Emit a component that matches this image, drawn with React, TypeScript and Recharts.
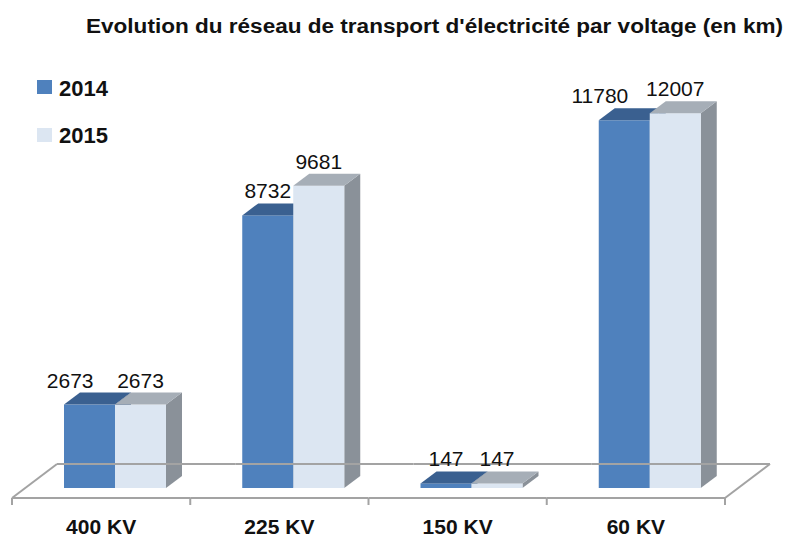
import React from "react";
import { BarChart, Bar, XAxis, YAxis, Legend, LabelList } from "recharts";

const categories = ["400 KV", "225 KV", "150 KV", "60 KV"];
const values2014 = [2673, 8732, 147, 11780];
const values2015 = [2673, 9681, 147, 12007];
const seriesNames = ["2014", "2015"];

const data = categories.map((cat, i) => ({
  cat,
  v2014: values2014[i],
  v2015: values2015[i],
}));

const W = 790;
const H = 539;
const margin = { top: 51, right: 51, left: 26, bottom: 0 };
const AXIS_H = 51;
const PLOT_BOTTOM = H - margin.bottom - AXIS_H;
const BAND = (W - margin.left - margin.right) / categories.length;

// profondeur 3D des barres et du sol
const DX = 16;
const DY = 12;

const colors = {
  blue: { front: "#4F81BD", top: "#3A6090", side: "#2F4F77" },
  light: { front: "#DCE6F2", top: "#A6AEB7", side: "#8A9199" },
};

const make3D = (c: { front: string; top: string; side: string }) => (props: any) => {
  const { x, y, width, height } = props;
  if (height == null || width == null) return null;
  const top = `${x},${y} ${x + width},${y} ${x + width + DX},${y - DY} ${x + DX},${y - DY}`;
  const side = `${x + width},${y} ${x + width + DX},${y - DY} ${x + width + DX},${y + height - DY} ${x + width},${y + height}`;
  return (
    <g>
      <polygon points={side} fill={c.side} />
      <rect x={x} y={y} width={width} height={height} fill={c.front} />
      <polygon points={top} fill={c.top} />
    </g>
  );
};

const getBox = (props: any) => {
  const vb = props.viewBox || {};
  return {
    x: props.x ?? vb.x,
    y: props.y ?? vb.y,
    width: props.width ?? vb.width,
    height: props.height ?? vb.height,
  };
};

const labelStyle = { fontSize: 21, fill: "#111", fontFamily: "Liberation Sans" };
const textW = (v: number) => String(v).length * 11.7;

const label2015 = (props: any) => {
  const { x, y, width } = getBox(props);
  return (
    <text x={x + width / 2} y={y - DY - 5} textAnchor="middle" style={labelStyle}>
      {props.value}
    </text>
  );
};

// étiquette 2014 décalée à gauche si elle chevauche celle de 2015
const label2014 = (props: any) => {
  const { x, y, width, height } = getBox(props);
  const v = values2014[props.index];
  const other = values2015[props.index];
  const ratio = v ? height / v : 0;
  const otherY = y + height - other * ratio;
  const cx = x + width / 2;
  const ocx = x + width * 1.5;
  const clash =
    Math.abs(otherY - y) < 20 && cx + textW(v) / 2 > ocx - textW(other) / 2 - 10;
  return (
    <text
      x={clash ? cx + 4 : cx}
      y={y - DY - 5}
      textAnchor={clash ? "end" : "middle"}
      style={labelStyle}
    >
      {props.value}
    </text>
  );
};

const floorTick = (props: any) => {
  const { x, payload, index } = props;
  const n = categories.length;
  const F = PLOT_BOTTOM + 10;
  const B = PLOT_BOTTOM - 24;
  const fs = x - BAND / 2 - 14;
  const fe = x + BAND / 2 - 14;
  const st = { stroke: "#A3A3A3", strokeWidth: 2 };
  return (
    <g>
      <line x1={fs} y1={F} x2={fe} y2={F} {...st} />
      <line x1={fs + 45} y1={B} x2={fe + 45} y2={B} {...st} />
      <line x1={fs} y1={F} x2={fs} y2={F + 7} {...st} />
      {index === 0 && <line x1={fs} y1={F} x2={fs + 45} y2={B} {...st} />}
      {index === n - 1 && (
        <>
          <line x1={fe} y1={F} x2={fe + 45} y2={B} {...st} />
          <line x1={fe} y1={F} x2={fe} y2={F + 7} {...st} />
        </>
      )}
      <text
        x={x - 14}
        y={H - 5}
        textAnchor="middle"
        style={{ fontSize: 21, fontWeight: "bold", fill: "#111", fontFamily: "Liberation Sans" }}
      >
        {payload.value}
      </text>
    </g>
  );
};

const legendContent = () => (
  <svg width={120} height={90}>
    <rect x={7} y={10} width={15} height={14} fill={colors.blue.front} />
    <text x={29} y={26} style={{ fontSize: 22, fontWeight: "bold", fill: "#111", fontFamily: "Liberation Sans" }}>
      {seriesNames[0]}
    </text>
    <rect x={7} y={58} width={15} height={14} fill={colors.light.front} />
    <text x={29} y={73} style={{ fontSize: 22, fontWeight: "bold", fill: "#111", fontFamily: "Liberation Sans" }}>
      {seriesNames[1]}
    </text>
  </svg>
);

export default function App() {
  return (
    <div
      style={{
        position: "absolute",
        left: 0,
        top: 0,
        width: W,
        height: H,
        background: "#fff",
        fontFamily: "Liberation Sans",
      }}
    >
      <svg width={W} height={45} style={{ position: "absolute", left: 0, top: 0 }}>
        <text
          x={86}
          y={33}
          textLength={697}
          lengthAdjust="spacingAndGlyphs"
          style={{ fontSize: 20, fontWeight: "bold", fill: "#111", fontFamily: "Liberation Sans" }}
        >
          Evolution du réseau de transport d'électricité par voltage (en km)
        </text>
      </svg>
      <BarChart width={W} height={H} data={data} margin={margin} barGap={0} barSize={51}>
        <XAxis
          dataKey="cat"
          height={AXIS_H}
          axisLine={false}
          tickLine={false}
          interval={0}
          tick={floorTick}
        />
        <YAxis hide domain={[0, 14000]} />
        <Legend
          layout="vertical"
          align="center"
          verticalAlign="middle"
          content={legendContent}
          wrapperStyle={{ left: 30, top: 70, width: 120, height: 90 }}
        />
        <Bar dataKey="v2014" name={seriesNames[0]} shape={make3D(colors.blue)} isAnimationActive={false}>
          <LabelList dataKey="v2014" content={label2014} />
        </Bar>
        <Bar dataKey="v2015" name={seriesNames[1]} shape={make3D(colors.light)} isAnimationActive={false}>
          <LabelList dataKey="v2015" content={label2015} />
        </Bar>
      </BarChart>
    </div>
  );
}
